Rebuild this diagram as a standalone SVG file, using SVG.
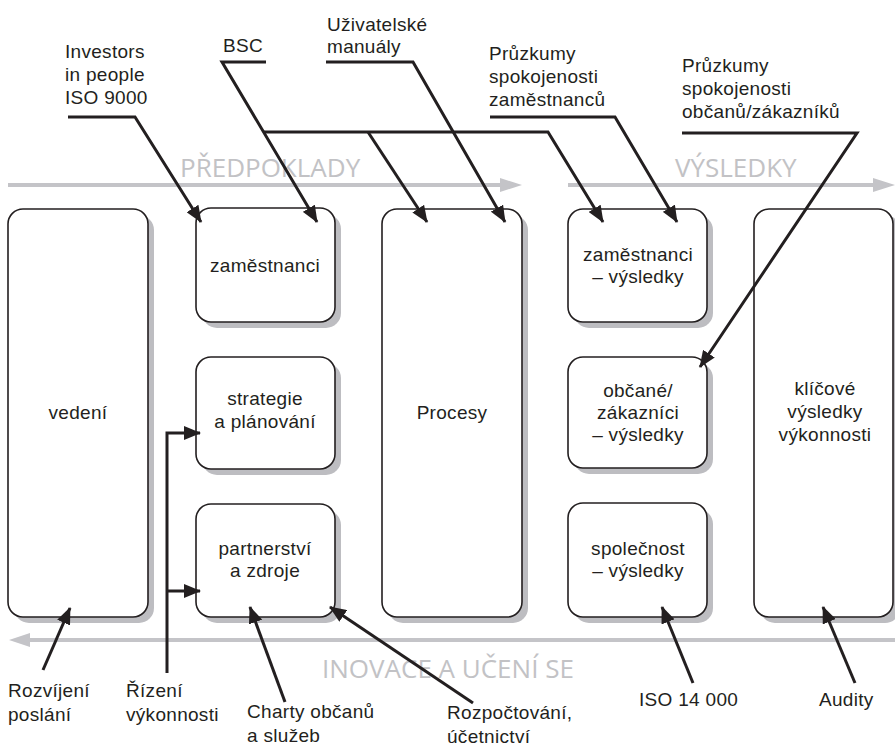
<svg xmlns="http://www.w3.org/2000/svg" width="895" height="749" viewBox="0 0 895 749">
<style>
.box{fill:#fff;stroke:#231f20;stroke-width:1.6}
.sh{fill:#bdbdc1}
.t{font-family:"Liberation Sans","Arial",sans-serif;font-size:19px;letter-spacing:0.3px;fill:#231f20}
.c{text-anchor:middle}
.g{font-family:"Open Sans","Noto Sans",sans-serif;font-size:26px;fill:#c2c2c5}
.ln{fill:none;stroke:#231f20;stroke-width:3}
.ga{fill:none;stroke:#c4c4c8;stroke-width:4}
</style>
<defs>
<marker id="ah" viewBox="0 0 17 14" refX="16" refY="7" markerWidth="17" markerHeight="14" markerUnits="userSpaceOnUse" orient="auto">
<path d="M0,0 L17,7 L0,14 z" fill="#231f20"/>
</marker>
</defs>
<rect width="895" height="749" fill="#fff"/>
<g id="flows">
<line class="ga" x1="8" y1="185" x2="502" y2="185"/>
<polygon points="500,178 522,185 500,192" fill="#c4c4c8"/>
<line class="ga" x1="568" y1="185" x2="875" y2="185"/>
<polygon points="873,178 895,185 873,192" fill="#c4c4c8"/>
<line class="ga" x1="28" y1="640" x2="895" y2="640"/>
<polygon points="30,633 9,640 30,647" fill="#c4c4c8"/>
<text class="g" x="180" y="177">PŘEDPOKLADY</text>
<text class="g" x="675" y="177">VÝSLEDKY</text>
<text class="g" x="322" y="678">INOVACE A UČENÍ SE</text>
</g>
<g id="vedeni">
<rect class="sh" x="14" y="215" width="140" height="408" rx="15"/>
<rect class="box" x="8" y="209" width="140" height="408" rx="15"/>
<text class="t c" x="78" y="419">vedení</text>
</g>
<g id="zamestnanci">
<rect class="sh" x="202" y="214" width="139" height="114" rx="15"/>
<rect class="box" x="196" y="208" width="139" height="114" rx="15"/>
<text class="t c" x="265" y="272">zaměstnanci</text>
</g>
<g id="strategie">
<rect class="sh" x="202" y="363" width="139" height="112" rx="15"/>
<rect class="box" x="196" y="357" width="139" height="112" rx="15"/>
<text class="t c" x="265" y="405">strategie<tspan x="265" dy="23">a plánování</tspan></text>
</g>
<g id="partnerstvi">
<rect class="sh" x="202" y="510" width="139" height="113" rx="15"/>
<rect class="box" x="196" y="504" width="139" height="113" rx="15"/>
<text class="t c" x="265" y="555">partnerství<tspan x="265" dy="22">a zdroje</tspan></text>
</g>
<g id="procesy">
<rect class="sh" x="388" y="215" width="140" height="408" rx="15"/>
<rect class="box" x="382" y="209" width="140" height="408" rx="15"/>
<text class="t c" x="452" y="419">Procesy</text>
</g>
<g id="zamestnanci-vysledky">
<rect class="sh" x="574" y="215" width="139" height="113" rx="15"/>
<rect class="box" x="568" y="209" width="139" height="113" rx="15"/>
<text class="t c" x="638" y="261">zaměstnanci<tspan x="638" dy="22">– výsledky</tspan></text>
</g>
<g id="obcane-vysledky">
<rect class="sh" x="574" y="363" width="139" height="111" rx="15"/>
<rect class="box" x="568" y="357" width="139" height="111" rx="15"/>
<text class="t c" x="638" y="397">občané/<tspan x="638" dy="22">zákazníci</tspan><tspan x="638" dy="22">– výsledky</tspan></text>
</g>
<g id="spolecnost-vysledky">
<rect class="sh" x="574" y="509" width="139" height="114" rx="15"/>
<rect class="box" x="568" y="503" width="139" height="114" rx="15"/>
<text class="t c" x="638" y="555">společnost<tspan x="638" dy="22">– výsledky</tspan></text>
</g>
<g id="klicove-vysledky">
<rect class="sh" x="760" y="215" width="140" height="408" rx="15"/>
<rect class="box" x="754" y="209" width="139" height="408" rx="15"/>
<text class="t c" x="825" y="395">klíčové<tspan x="825" dy="23">výsledky</tspan><tspan x="825" dy="23">výkonnosti</tspan></text>
</g>
<g id="labels">
<text class="t" x="65" y="58">Investors<tspan x="65" dy="23">in people</tspan><tspan x="65" dy="23">ISO 9000</tspan></text>
<text class="t" x="223" y="52">BSC</text>
<text class="t" x="327" y="31">Uživatelské<tspan x="327" dy="22">manuály</tspan></text>
<text class="t" x="489" y="60">Průzkumy<tspan x="489" dy="23">spokojenosti</tspan><tspan x="489" dy="23">zaměstnanců</tspan></text>
<text class="t" x="682" y="72">Průzkumy<tspan x="682" dy="23">spokojenosti</tspan><tspan x="682" dy="23">občanů/zákazníků</tspan></text>
<text class="t" x="8" y="697">Rozvíjení<tspan x="8" dy="24">poslání</tspan></text>
<text class="t" x="126" y="697">Řízení<tspan x="126" dy="24">výkonnosti</tspan></text>
<text class="t" x="247" y="718">Charty občanů<tspan x="247" dy="24">a služeb</tspan></text>
<text class="t" x="447" y="719">Rozpočtování,<tspan x="447" dy="24">účetnictví</tspan></text>
<text class="t" x="639" y="706">ISO 14 000</text>
<text class="t" x="819" y="706">Audity</text>
</g>
<g id="connectors">
<path class="ln" d="M68,117 H135 L201,222" marker-end="url(#ah)"/>
<path class="ln" d="M266,62 H222 L317,222" marker-end="url(#ah)"/>
<path class="ln" d="M264,132 H548 L603,222" marker-end="url(#ah)"/>
<path class="ln" d="M368,132 L427,222" marker-end="url(#ah)"/>
<path class="ln" d="M326,62 H413 L505,222" marker-end="url(#ah)"/>
<path class="ln" d="M490,117 H615 L677,222" marker-end="url(#ah)"/>
<path class="ln" d="M682,133 H857 L700,367" marker-end="url(#ah)"/>
<path class="ln" d="M43,670 L70,608" marker-end="url(#ah)"/>
<path class="ln" d="M167,673 V433 H200" marker-end="url(#ah)"/>
<path class="ln" d="M167,591 H200" marker-end="url(#ah)"/>
<path class="ln" d="M285,702 L250,607" marker-end="url(#ah)"/>
<path class="ln" d="M473,703 L330,607" marker-end="url(#ah)"/>
<path class="ln" d="M693,683 L662,607" marker-end="url(#ah)"/>
<path class="ln" d="M855,683 L823,607" marker-end="url(#ah)"/>
</g>
</svg>
